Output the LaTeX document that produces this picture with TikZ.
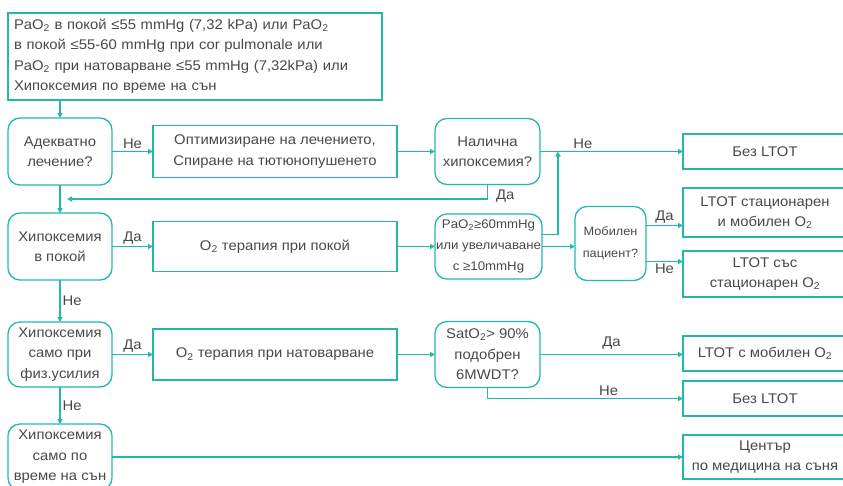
\documentclass[tikz,border=0pt]{standalone}
\usepackage{fontspec}
\setmainfont{Liberation Sans}[FakeStretch=1.06]
\usetikzlibrary{positioning,arrows.meta,calc}

\definecolor{flowteal}{RGB}{36,184,170}
\definecolor{textgray}{RGB}{72,72,72}
\newcommand{\otwo}{O\textsubscript{2}}

\tikzset{
  every node/.style={text=textgray, font=\fontsize{14}{20.5}\selectfont},
  decision/.style={draw=flowteal, line width=1.3pt, rounded corners=12pt, align=center, inner sep=1pt, outer sep=0pt},
  process/.style={draw=flowteal, line width=1.3pt, align=center, inner sep=1pt, outer sep=0pt},
  arr/.style={draw=flowteal, line width=1.3pt, -{Triangle[length=5pt,width=5pt]}},
  lbl/.style={inner sep=2pt}
}

\begin{document}
\begin{tikzpicture}[x=1pt,y=-1pt]
  \useasboundingbox (0,0) rectangle (843,485);
  \clip (0,0) rectangle (843,485);

  % entry criteria
  \node[process, minimum width=374pt, minimum height=87pt, text width=362pt, align=left] (cond) at (195,56.5)
    {PaO\textsubscript{2} в покой ≤55 mmHg (7,32 kPa) или PaO\textsubscript{2}\\
     в покой ≤55-60 mmHg при cor pulmonale или\\
     PaO\textsubscript{2} при натоварване ≤55 mmHg (7,32kPa) или\\
     Хипоксемия по време на сън};

  % row 1
  \node[decision, minimum width=104pt, minimum height=67pt] (adeq) at (60,151.5) {Адекватно\\лечение?};
  \node[process, minimum width=244pt, minimum height=52pt, right=41pt of adeq] (optim) {Оптимизиране на лечението,\\Спиране на тютюнопушенето};
  \node[decision, minimum width=105pt, minimum height=66pt, right=38pt of optim] (hypox) {Налична\\хипоксемия?};
  \node[process, minimum width=164pt, minimum height=35pt, right=143pt of hypox] (noltotA) {Без LTOT};

  % row 2
  \node[decision, minimum width=104pt, minimum height=67pt, below=28pt of adeq] (rest) {Хипоксемия\\в покой};
  \node[process, minimum width=244pt, minimum height=50pt, right=41pt of rest] (orest) {\otwo{} терапия при покой};
  \node[decision, minimum width=105pt, minimum height=65pt, right=38pt of orest, font=\fontsize{12.5}{21}\selectfont] (gain) {PaO\textsubscript{2}≥60mmHg\\или увеличаване\\с ≥10mmHg};
  \node[decision, minimum width=71pt, minimum height=74pt, right=33pt of gain, yshift=3pt, font=\fontsize{12}{22}\selectfont] (mobile) {Мобилен\\пациент?};
  \node[process, minimum width=164pt, minimum height=49pt] (ltotboth) at (765,212.5) {LTOT стационарен\\и мобилен \otwo};
  \node[process, minimum width=164pt, minimum height=46pt] (ltotstat) at (765,274) {LTOT със\\стационарен \otwo};

  % row 3
  \node[decision, minimum width=104pt, minimum height=65pt, below=42pt of rest] (exer) {Хипоксемия\\само при\\физ.усилия};
  \node[process, minimum width=244pt, minimum height=51pt, right=41pt of exer] (oexer) {\otwo{} терапия при натоварване};
  \node[decision, minimum width=105pt, minimum height=66pt, right=38pt of oexer] (sat) {SatO\textsubscript{2}> 90\%\\подобрен\\6MWDT?};
  \node[process, minimum width=164pt, minimum height=35pt] (ltotmob) at (765,353.5) {LTOT с мобилен \otwo};
  \node[process, minimum width=164pt, minimum height=35pt] (noltotB) at (765,398.5) {Без LTOT};

  % row 4
  \node[decision, minimum width=104pt, minimum height=66pt, below=37pt of exer] (sleep) {Хипоксемия\\само по\\време на сън};
  \node[process, minimum width=164pt, minimum height=44pt] (sleepctr) at (765,457) {Център\\по медицина на съня};

  \coordinate (join) at ($(adeq.south)!0.5!(rest.north)$);
  \coordinate (merge) at ($(hypox.east)+(18,0)$);
  \coordinate (gainOut) at ($(gain.east)+(0,-12)$);
  \coordinate (mobYes) at ($(mobile.east)+(0,-18)$);
  \coordinate (mobNo) at ($(mobile.east)+(0,18)$);

  \draw[arr] (cond.south -| adeq.north) -- (adeq.north);
  \draw[arr] (adeq) -- node[lbl, above]{Не} (optim);
  \draw[arr] (optim) -- (hypox);
  \draw[arr] (hypox) -- node[lbl, above, pos=0.3]{Не} (hypox -| noltotA.west);
  \draw[arr, shorten >=7pt] (hypox.south) |- node[lbl, pos=0.5, anchor=west, xshift=6pt, yshift=3pt]{Да} (join);
  \draw[arr] (adeq) -- (rest);

  \draw[arr] (rest) -- node[lbl, above]{Да} (orest);
  \draw[arr] (orest) -- (gain);
  \draw[arr] (gain) -- (gain -| mobile.west);
  \draw[arr] (gainOut) -| (merge);
  \draw[arr] (mobYes) -- node[lbl, above]{Да} (mobYes -| ltotboth.west);
  \draw[arr] (mobNo) -- node[lbl, below]{Не} (mobNo -| ltotstat.west);

  \draw[arr] (rest) -- node[lbl, right]{Не} (exer);
  \draw[arr] (exer) -- node[lbl, above]{Да} (oexer);
  \draw[arr] (oexer) -- (sat);
  \draw[arr] (sat) -- node[lbl, above=3pt]{Да} (sat -| ltotmob.west);
  \draw[arr] (sat.south) |- node[lbl, above, pos=0.81]{Не} (noltotB);

  \draw[arr] (exer) -- node[lbl, right]{Не} (sleep);
  \draw[arr] (sleep) -- (sleep -| sleepctr.west);
\end{tikzpicture}
\end{document}
